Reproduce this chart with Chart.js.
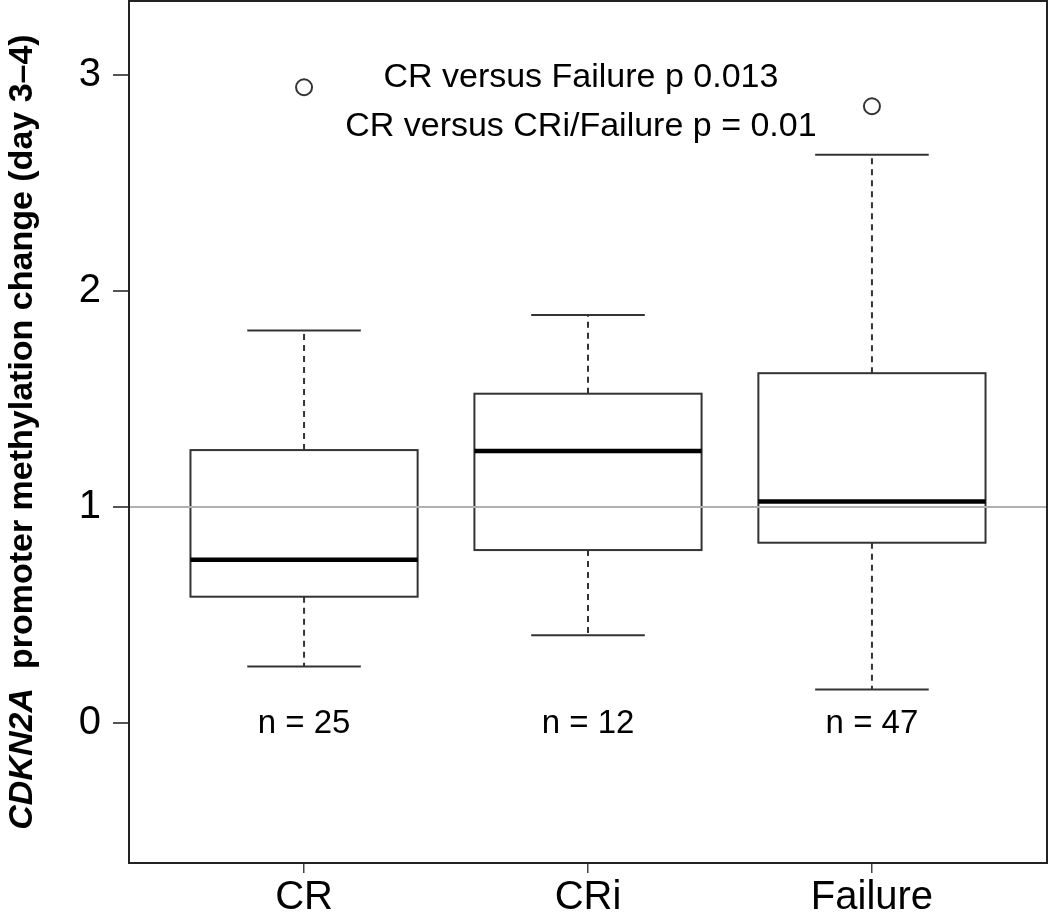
<!DOCTYPE html>
<html>
<head>
<meta charset="utf-8">
<script src="https://cdn.jsdelivr.net/npm/chart.js@4/dist/chart.umd.min.js"></script>
<style>
  html, body { margin: 0; padding: 0; background: #fff; }
  #wrap { width: 1050px; height: 917px; }
</style>
</head>
<body>
<div id="wrap"><canvas id="box"></canvas></div>
<script>
// Groups and five-number summaries.
const groups = ['CR', 'CRi', 'Failure'];
const whiskerLow = [0.262, 0.407, 0.155];
const q1 = [0.585, 0.801, 0.835];
const median = [0.756, 1.260, 1.026];
const q3 = [1.264, 1.525, 1.620];
const whiskerHigh = [1.818, 1.889, 2.632];
const outliers = [
    { x: 1, y: 2.944 },
    { x: 3, y: 2.856 },
];
const counts = ['n = 25', 'n = 12', 'n = 47'];
const notes = ['CR versus Failure p 0.013', 'CR versus CRi/Failure p = 0.01'];
const yTicks = [0, 1, 2, 3];
const refLine = 1;

const FONT = '"Liberation Sans", Arial, Helvetica, sans-serif';

function hline(ctx, x0, x1, y) {
    ctx.beginPath();
    ctx.moveTo(x0, y);
    ctx.lineTo(x1, y);
    ctx.stroke();
}

// Draws boxes, whiskers, medians and the texts from the arrays above,
// converting every value through the chart's own scales.
const boxplot = {
    id: 'boxplot',
    beforeDatasetsDraw(chart) {
        const { ctx, chartArea: a, scales: { x, y } } = chart;
        ctx.save();

        groups.forEach((g, i) => {
            const c = x.getPixelForValue(i + 1);
            const bl = x.getPixelForValue(i + 1 - 0.4);
            const br = x.getPixelForValue(i + 1 + 0.4);
            const cl = x.getPixelForValue(i + 1 - 0.2);
            const cr = x.getPixelForValue(i + 1 + 0.2);
            const pLo = y.getPixelForValue(whiskerLow[i]);
            const pQ1 = y.getPixelForValue(q1[i]);
            const pMed = y.getPixelForValue(median[i]);
            const pQ3 = y.getPixelForValue(q3[i]);
            const pHi = y.getPixelForValue(whiskerHigh[i]);

            // dashed whiskers
            ctx.strokeStyle = '#333';
            ctx.lineWidth = 2;
            ctx.setLineDash([6, 5]);
            ctx.beginPath();
            ctx.moveTo(c, pQ3); ctx.lineTo(c, pHi);
            ctx.moveTo(c, pQ1); ctx.lineTo(c, pLo);
            ctx.stroke();
            ctx.setLineDash([]);

            // caps
            hline(ctx, cl, cr, pHi);
            hline(ctx, cl, cr, pLo);

            // box
            ctx.strokeRect(bl, pQ3, br - bl, pQ1 - pQ3);

            // median
            ctx.strokeStyle = '#000';
            ctx.lineWidth = 4.5;
            hline(ctx, bl, br, pMed);
        });

        // reference line at 1, drawn across the boxes as in the original
        ctx.strokeStyle = '#b0b0b0';
        ctx.lineWidth = 2;
        hline(ctx, a.left, a.right, y.getPixelForValue(refLine));

        // n = ... labels
        ctx.fillStyle = '#000';
        ctx.font = '33px ' + FONT;
        ctx.textAlign = 'center';
        ctx.textBaseline = 'middle';
        counts.forEach((t, i) => {
            ctx.fillText(t, x.getPixelForValue(i + 1), y.getPixelForValue(-0.005));
        });

        // p-value notes
        ctx.font = '34px ' + FONT;
        ctx.fillText(notes[0], x.getPixelForValue(1.975), y.getPixelForValue(2.99));
        ctx.fillText(notes[1], x.getPixelForValue(1.975), y.getPixelForValue(2.76));

        ctx.restore();
    },
    afterDraw(chart) {
        const { ctx, chartArea: a } = chart;
        ctx.save();
        // plot frame
        ctx.strokeStyle = '#222';
        ctx.lineWidth = 2;
        ctx.strokeRect(a.left + 1, a.top + 1, a.right - a.left - 2, a.bottom - a.top - 1);

        // y title: italic gene name + bold remainder, rotated
        const part1 = 'CDKN2A';
        const part2 = '  promoter methylation change (day 3\u20134)';
        const f1 = 'italic bold 34px ' + FONT;
        const f2 = 'bold 34px ' + FONT;
        ctx.font = f1;
        const w1 = ctx.measureText(part1).width;
        ctx.font = f2;
        const w2 = ctx.measureText(part2).width;
        ctx.translate(23, 432);
        ctx.rotate(-Math.PI / 2);
        ctx.fillStyle = '#000';
        ctx.textBaseline = 'middle';
        ctx.textAlign = 'left';
        const start = -(w1 + w2) / 2;
        ctx.font = f1;
        ctx.fillText(part1, start, 0);
        ctx.font = f2;
        ctx.fillText(part2, start + w1, 0);
        ctx.restore();
    },
};

new Chart(document.getElementById('box'), {
    type: 'scatter',
    data: {
        datasets: [{
            label: 'outliers',
            data: outliers,
            pointStyle: 'circle',
            pointRadius: 8,
            pointBorderWidth: 2,
            pointBorderColor: '#333',
            pointBackgroundColor: 'rgba(255,255,255,0)',
        }],
    },
    options: {
        responsive: true,
        maintainAspectRatio: false,
        animation: false,
        layout: { autoPadding: false, padding: { top: 0, right: 2, left: 0, bottom: 0 } },
        plugins: { legend: { display: false }, tooltip: { enabled: false } },
        scales: {
            x: {
                type: 'linear',
                min: 0.38,
                max: 3.62,
                afterBuildTicks: (s) => { s.ticks = groups.map((g, i) => ({ value: i + 1 })); },
                afterFit: (s) => {
                    s.height = 54;
                    s.paddingLeft = 0;
                    s.paddingRight = 0;
                },
                ticks: {
                    callback: (v) => groups[v - 1],
                    font: { family: FONT, size: 40 },
                    color: '#000',
                    padding: 1,
                    maxRotation: 0,
                },
                grid: { drawOnChartArea: false, tickLength: 10, color: '#444', lineWidth: 1.5 },
                border: { display: false },
            },
            y: {
                min: -0.648,
                max: 3.348,
                afterBuildTicks: (s) => { s.ticks = yTicks.map((v) => ({ value: v })); },
                afterFit: (s) => {
                    s.width = 128;
                    s.paddingTop = 0;
                    s.paddingBottom = 0;
                },
                ticks: {
                    font: { family: FONT, size: 40 },
                    color: '#000',
                    padding: 12,
                },
                grid: { drawOnChartArea: false, tickLength: 15, color: '#555', lineWidth: 2 },
                border: { display: false },
            },
        },
    },
    plugins: [boxplot],
});
</script>
</body>
</html>
